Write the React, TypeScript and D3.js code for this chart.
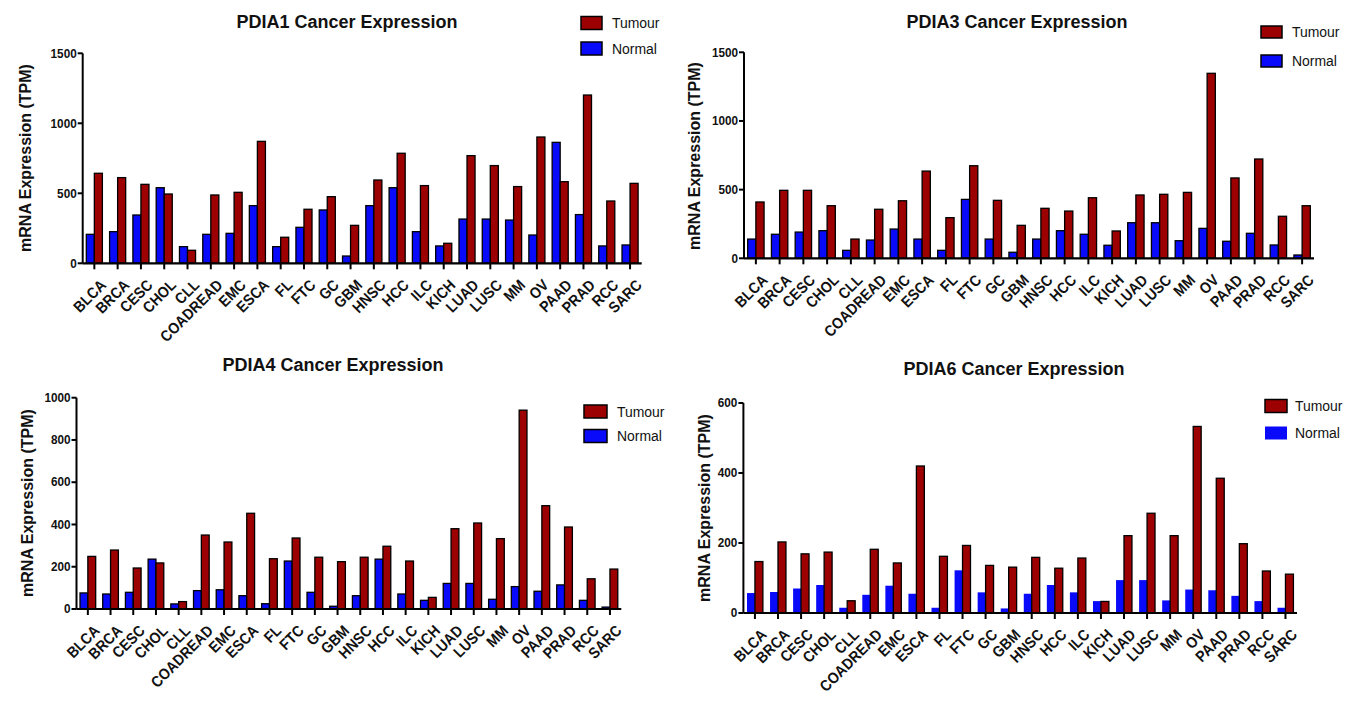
import React from "react";
import * as d3 from "d3";

const categories = ["BLCA","BRCA","CESC","CHOL","CLL","COADREAD","EMC","ESCA","FL","FTC","GC","GBM","HNSC","HCC","ILC","KICH","LUAD","LUSC","MM","OV","PAAD","PRAD","RCC","SARC"];

const pdia1Tumour = [643,612,564,495,93,488,507,871,186,386,476,271,595,786,555,143,769,698,548,902,583,1202,445,571];
const pdia1Normal = [207,226,345,540,119,207,214,412,119,257,381,52,412,540,226,124,316,316,309,202,864,348,124,131];

const pdia3Tumour = [410,495,495,383,140,357,419,635,296,674,422,240,364,344,441,199,461,466,480,1347,585,723,306,383];
const pdia3Normal = [140,175,191,201,58,133,213,140,58,429,140,44,140,201,175,95,259,259,128,218,124,182,97,24];

const pdia4Tumour = [249,279,194,218,35,350,317,453,238,336,245,224,245,297,227,55,380,407,333,941,489,388,143,189];
const pdia4Normal = [76,71,79,236,24,87,91,63,25,227,79,13,63,236,71,41,121,121,46,106,84,114,41,9];

const pdia6Tumour = [147,203,169,174,35,182,143,420,162,193,136,131,159,128,157,33,221,285,221,533,385,198,120,111];
const pdia6Normal = [57,60,70,80,15,52,78,55,15,122,59,13,55,80,59,34,94,94,36,67,65,49,34,15];

const yTicks1 = [0, 500, 1000, 1500];
const yTicks3 = [0, 500, 1000, 1500];
const yTicks4 = [0, 200, 400, 600, 800, 1000];
const yTicks6 = [0, 200, 400, 600];

const RED = "#9c0000";
const BLUE = "#0a0afa";
const FONT = "'Liberation Sans', Arial, Helvetica, sans-serif";

type PanelProps = {
  title: string;
  tumour: number[];
  normal: number[];
  yMax: number;
  yTicks: number[];
  x0: number; x1: number; yBottom: number; yTop: number;
  titleX: number; titleY: number;
  labelX: number; labelY: number;
  legX: number; legY1: number; legY2: number; legW: number; legH: number; legGap: number;
  normalStroke: boolean;
};

function Panel(p: PanelProps) {
  const x = d3.scaleBand<string>().domain(categories).range([p.x0, p.x1]).paddingInner(0.31).paddingOuter(0.155);
  const sub = d3.scaleBand<string>().domain(["Normal", "Tumour"]).range([0, x.bandwidth()]).padding(0);
  const y = d3.scaleLinear().domain([0, p.yMax]).range([p.yBottom, p.yTop]);
  const step = x.step();
  return (
    <g>
      <text x={p.titleX} y={p.titleY} textAnchor="middle" fontFamily={FONT} fontWeight="bold" fontSize={18} fill="#111">{p.title}</text>
      <text transform={`translate(${p.labelX},${p.labelY}) rotate(-90)`} textAnchor="middle" dominantBaseline="central" fontFamily={FONT} fontWeight="bold" fontSize={16} fill="#111">mRNA Expression (TPM)</text>
      {categories.map((c, i) => (
        <g key={c}>
          <rect x={(x(c) as number) + (sub("Normal") as number)} y={y(p.normal[i])} width={sub.bandwidth()} height={p.yBottom - y(p.normal[i])} fill={BLUE} stroke={p.normalStroke ? "#000" : "none"} strokeWidth={1.3} />
          <rect x={(x(c) as number) + (sub("Tumour") as number)} y={y(p.tumour[i])} width={sub.bandwidth()} height={p.yBottom - y(p.tumour[i])} fill={RED} stroke="#000" strokeWidth={1.3} />
        </g>
      ))}
      {/* y axis */}
      <line x1={p.x0} x2={p.x0} y1={p.yBottom} y2={y(p.yMax)} stroke="#000" strokeWidth={2} />
      {p.yTicks.map((t) => (
        <g key={t}>
          <line x1={p.x0 - 5} x2={p.x0} y1={y(t)} y2={y(t)} stroke="#000" strokeWidth={2} />
          <text transform={`translate(${p.x0 - 6},${y(t)}) scale(0.87,1)`} textAnchor="end" dominantBaseline="central" fontFamily={FONT} fontWeight="bold" fontSize={13.5} fill="#111">{t}</text>
        </g>
      ))}
      {/* x axis */}
      <line x1={p.x0} x2={p.x0 + step * categories.length} y1={p.yBottom} y2={p.yBottom} stroke="#000" strokeWidth={2.2} />
      {categories.map((c) => {
        const cx = (x(c) as number) + x.bandwidth() / 2;
        return (
          <g key={"t" + c}>
            <line x1={cx} x2={cx} y1={p.yBottom} y2={p.yBottom + 6} stroke="#000" strokeWidth={2} />
            <text transform={`translate(${cx + 5},${p.yBottom + 15}) rotate(-45) scale(0.9,1)`} textAnchor="end" dominantBaseline="hanging" fontFamily={FONT} fontWeight="bold" fontSize={15.5} fill="#111">{c}</text>
          </g>
        );
      })}
      {/* legend */}
      <rect x={p.legX} y={p.legY1 - p.legH / 2} width={p.legW} height={p.legH} fill={RED} stroke="#000" strokeWidth={1.5} />
      <text transform={`translate(${p.legX + p.legW + p.legGap},${p.legY1}) scale(0.9,1)`} dominantBaseline="central" fontFamily={FONT} fontSize={15.5} fill="#111">Tumour</text>
      <rect x={p.legX} y={p.legY2 - p.legH / 2} width={p.legW} height={p.legH} fill={BLUE} stroke={p.normalStroke ? "#000" : "none"} strokeWidth={1.5} />
      <text transform={`translate(${p.legX + p.legW + p.legGap},${p.legY2}) scale(0.9,1)`} dominantBaseline="central" fontFamily={FONT} fontSize={15.5} fill="#111">Normal</text>
    </g>
  );
}

export default function App() {
  return (
    <svg width={1348} height={704} style={{ position: "absolute", left: 0, top: 0, background: "#fff" }}>
      <rect width={1348} height={704} fill="#fff" />
      <Panel title="PDIA1 Cancer Expression" tumour={pdia1Tumour} normal={pdia1Normal} yMax={1500} yTicks={yTicks1}
        x0={82.7} x1={641.7} yBottom={263.3} yTop={53.3} titleX={347} titleY={28} labelX={25} labelY={158}
        legX={581} legY1={23} legY2={48.5} legW={21} legH={13} legGap={10} normalStroke={true} />
      <Panel title="PDIA3 Cancer Expression" tumour={pdia3Tumour} normal={pdia3Normal} yMax={1500} yTicks={yTicks3}
        x0={744} x1={1314} yBottom={258.3} yTop={52.3} titleX={1017} titleY={28} labelX={694} labelY={156}
        legX={1261} legY1={32} legY2={61} legW={21} legH={12} legGap={10} normalStroke={true} />
      <Panel title="PDIA4 Cancer Expression" tumour={pdia4Tumour} normal={pdia4Normal} yMax={1000} yTicks={yTicks4}
        x0={76.5} x1={621.3} yBottom={609} yTop={397.7} titleX={333} titleY={371} labelX={27} labelY={503}
        legX={584} legY1={411.5} legY2={436} legW={23} legH={13} legGap={10} normalStroke={true} />
      <Panel title="PDIA6 Cancer Expression" tumour={pdia6Tumour} normal={pdia6Normal} yMax={600} yTicks={yTicks6}
        x0={743.4} x1={1297} yBottom={613} yTop={403} titleX={1014} titleY={375} labelX={704} labelY={508}
        legX={1265} legY1={406} legY2={433} legW={22} legH={13} legGap={8} normalStroke={false} />
    </svg>
  );
}
